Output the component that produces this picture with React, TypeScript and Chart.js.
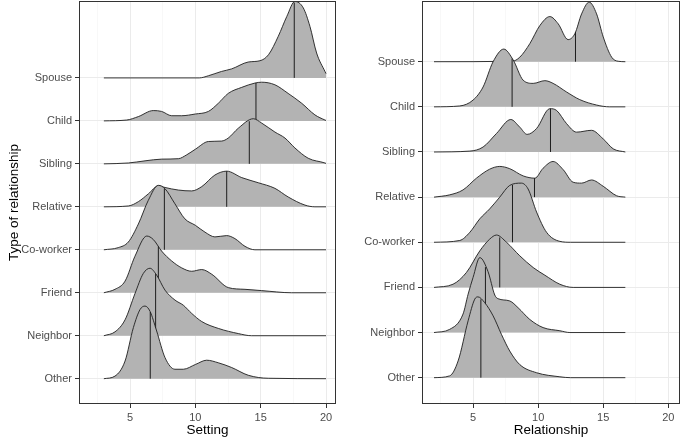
import React, { useEffect, useRef } from "react";
import { Chart, registerables } from "chart.js";
Chart.register(...registerables);

// Ridges listed bottom (y = 1) to top (y = 8)
const categories = ["Other", "Neighbor", "Friend", "Co-worker", "Relative", "Sibling", "Child", "Spouse"];
const xTicks = [2.5, 5, 7.5, 10, 12.5, 15, 17.5, 20];
const majorTicks = [5, 10, 15, 20];

// Setting panel: [x, density height in ridge units]
const settingOther = [[3,0],[3.85,0.06],[4.62,0.41],[5.26,1.19],[5.77,1.61],[6.15,1.69],[6.53,1.57],[7.04,1.11],[7.68,0.49],[8.44,0.22],[9.08,0.22],[10,0.33],[10.87,0.43],[11.76,0.37],[12.78,0.26],[14.05,0.08],[15.58,0.01],[20,0]];
const settingNeighbor = [[3,0],[3.85,0.09],[4.62,0.37],[5.38,0.98],[6.02,1.45],[6.53,1.57],[7.04,1.41],[7.68,1.06],[8.44,0.83],[9.08,0.71],[9.72,0.52],[10.49,0.33],[11.76,0.17],[13.29,0.05],[14.3,0],[20,0]];
const settingFriend = [[3,0],[3.85,0.08],[4.62,0.27],[5.38,0.85],[6.28,1.32],[6.78,1.24],[7.42,0.97],[8.19,0.74],[8.95,0.58],[9.72,0.5],[10.49,0.54],[11.26,0.43],[12.52,0.12],[13.8,0.08],[15.07,0.05],[17.37,0],[20,0]];
const settingCoworker = [[3,0],[4.1,0.05],[4.87,0.18],[5.64,0.6],[6.4,1.15],[7.17,1.5],[7.68,1.42],[8.44,1.07],[9.2,0.72],[10,0.57],[10.74,0.41],[11.5,0.3],[12.4,0.33],[13.03,0.26],[13.8,0.08],[14.56,0],[20,0]];
const settingRelative = [[3,0],[4.87,0.02],[5.64,0.12],[6.4,0.3],[7.17,0.49],[7.68,0.45],[8.7,0.39],[9.72,0.37],[10.49,0.47],[11.5,0.74],[12.4,0.83],[13.55,0.68],[14.82,0.56],[16.09,0.43],[17.1,0.23],[18.39,0.04],[19.15,0],[20,0]];
const settingSibling = [[3,0],[4.87,0.02],[6.15,0.07],[7.43,0.11],[8.7,0.12],[9.34,0.21],[10,0.34],[11,0.52],[12,0.53],[12.52,0.6],[13.29,0.83],[14.44,1.05],[15.07,0.95],[16.09,0.74],[16.86,0.6],[17.62,0.37],[18.64,0.13],[19.92,0.02],[20,0.01]];
const settingChild = [[3,0],[4.75,0.02],[5.64,0.1],[6.78,0.24],[7.42,0.22],[8.19,0.12],[8.95,0.12],[10,0.16],[11,0.22],[11.76,0.41],[12.52,0.64],[13.55,0.78],[14.56,0.88],[15.07,0.9],[16.09,0.84],[17.1,0.64],[18.14,0.41],[19.15,0.14],[19.92,0.02],[20,0.01]];
const settingSpouse = [[3,0],[10.3,0],[11,0.05],[12,0.15],[12.78,0.21],[14.05,0.37],[14.95,0.4],[15.6,0.54],[16.35,0.97],[17,1.43],[17.62,1.78],[18.26,1.63],[18.77,1.2],[19.28,0.58],[19.92,0.15],[20,0.1]];
const settingMedians = [6.55, 6.96, 7.17, 7.63, 12.4, 14.13, 14.64, 17.57];

// Relationship panel
const relOther = [[2,0],[3.2,0.04],[3.85,0.37],[4.62,1.26],[5.13,1.74],[5.38,1.79],[5.9,1.66],[6.54,1.37],[7.18,0.96],[7.82,0.59],[8.59,0.29],[9.88,0.11],[11.67,0.02],[12.5,0],[16.7,0]];
const relNeighbor = [[2,0],[3.2,0.07],[4.23,0.41],[4.62,0.85],[5.0,1.22],[5.52,1.66],[6.15,1.35],[6.67,0.83],[6.92,0.75],[7.82,0.7],[8.46,0.55],[9.36,0.29],[10.38,0.11],[11.67,0.04],[12.44,0],[16.7,0]];
const relFriend = [[2,0],[3.46,0.07],[4.49,0.33],[5.52,0.81],[6.28,1.07],[6.8,1.16],[7.57,1.0],[8.59,0.7],[9.62,0.44],[10.52,0.27],[11.67,0.07],[12.69,0],[16.7,0]];
const relCoworker = [[2,0],[3.98,0.04],[4.75,0.22],[5.52,0.52],[6.28,0.74],[7.05,1.0],[7.82,1.26],[8.72,1.31],[9.23,1.18],[9.88,0.67],[10.65,0.22],[11.67,0.02],[12.5,0],[16.7,0]];
const relRelative = [[2,0],[3.2,0.05],[4.23,0.16],[5.26,0.42],[6.28,0.62],[7.05,0.68],[7.82,0.63],[8.85,0.47],[9.75,0.42],[10.38,0.64],[11.15,0.79],[11.92,0.61],[12.69,0.33],[13.34,0.31],[14.1,0.38],[15.0,0.24],[16.03,0.03],[16.7,0]];
const relSibling = [[2,0],[4.75,0.02],[5.77,0.11],[6.8,0.41],[7.9,0.72],[8.59,0.55],[9.15,0.39],[9.88,0.52],[10.9,0.96],[11.42,0.92],[12.18,0.63],[12.95,0.44],[14.1,0.48],[15.0,0.29],[15.77,0.07],[16.7,0]];
const relChild = [[2,0],[3.98,0.02],[5,0.15],[5.77,0.44],[6.54,1.0],[7.36,1.28],[8.08,1.04],[8.85,0.59],[9.62,0.52],[10.52,0.58],[11.15,0.52],[12.18,0.33],[13.2,0.16],[14.49,0.04],[15.5,0],[16.7,0]];
const relSpouse = [[2,0],[8.0,0.01],[8.59,0.1],[9.36,0.4],[10.13,0.8],[10.9,1.0],[11.54,0.84],[12.3,0.49],[12.82,0.62],[13.34,1.06],[13.92,1.32],[14.49,1.06],[15.0,0.55],[15.65,0.1],[16.15,0.01],[16.7,0]];
const relMedians = [5.6, 5.95, 7.05, 8.03, 9.72, 10.95, 8.0, 12.87];

const settingRidges = [settingOther, settingNeighbor, settingFriend, settingCoworker, settingRelative, settingSibling, settingChild, settingSpouse];
const relRidges = [relOther, relNeighbor, relFriend, relCoworker, relRelative, relSibling, relChild, relSpouse];

const FONT = "'Liberation Sans', Arial, Helvetica, sans-serif";
Chart.defaults.font.family = FONT;

function heightAt(pts: number[][], x: number): number {
  for (let i = 0; i < pts.length - 1; i++) {
    const [x0, h0] = pts[i];
    const [x1, h1] = pts[i + 1];
    if (x >= x0 && x <= x1) {
      const t = x1 === x0 ? 0 : (x - x0) / (x1 - x0);
      return h0 + t * (h1 - h0);
    }
  }
  return 0;
}

const borderPlugin = {
  id: "panelBorder",
  afterDraw(chart: any) {
    const { ctx, chartArea: a } = chart;
    ctx.save();
    ctx.strokeStyle = "#333333";
    ctx.lineWidth = 1;
    ctx.strokeRect(a.left + 0.5, a.top + 0.5, a.right - a.left - 1, a.bottom - a.top - 1);
    ctx.restore();
  },
};

function makeConfig(ridges: number[][][], medians: number[], xMin: number, xMax: number, yMin: number, yMax: number, xTitle: string, yTitle: string, padRight: number): any {
  const datasets: any[] = [];
  ridges.forEach((pts, i) => {
    const base = i + 1;
    datasets.push({
      type: "line",
      data: pts.map(([x, h]) => ({ x, y: base + h })),
      borderColor: "#1e1e1e",
      borderWidth: 0.9,
      backgroundColor: "#B3B3B3",
      fill: { value: base },
      pointRadius: 0,
      cubicInterpolationMode: "monotone",
      order: 2 * i + 2,
    });
    const m = medians[i];
    datasets.push({
      type: "line",
      data: [{ x: m, y: base }, { x: m, y: base + heightAt(pts, m) }],
      borderColor: "#1e1e1e",
      borderWidth: 1,
      pointRadius: 0,
      fill: false,
      order: 2 * i + 1,
    });
  });
  const tickFont = { family: FONT, size: 11 };
  const titleFont = { family: FONT, size: 13.5 };
  return {
    type: "line",
    data: { datasets },
    options: {
      animation: false,
      responsive: false,
      devicePixelRatio: 1,
      layout: { padding: { left: 0, right: padRight, top: 1, bottom: 0 } },
      plugins: { legend: { display: false }, tooltip: { enabled: false } },
      scales: {
        x: {
          type: "linear",
          min: xMin,
          max: xMax,
          afterBuildTicks: (s: any) => { s.ticks = xTicks.map((v) => ({ value: v })); },
          afterFit: (s: any) => { s.height = 39; s.paddingLeft = 0; s.paddingRight = 0; },
          ticks: {
            autoSkip: false,
            maxRotation: 0,
            color: "#4D4D4D",
            font: tickFont,
            padding: 3,
            callback: (v: any) => (majorTicks.includes(Number(v)) ? String(v) : ""),
          },
          grid: {
            color: (c: any) => (c.tick && majorTicks.includes(c.tick.value) ? "#EBEBEB" : "#F4F4F4"),
            lineWidth: (c: any) => (c.tick && majorTicks.includes(c.tick.value) ? 1 : 0.6),
            tickColor: (c: any) => (c.tick && majorTicks.includes(c.tick.value) ? "#333333" : "rgba(0,0,0,0)"),
            tickLength: 4,
          },
          border: { display: false },
          title: { display: true, text: xTitle, color: "#000000", font: titleFont, padding: { top: 0, bottom: 5 } },
        },
        y: {
          type: "linear",
          min: yMin,
          max: yMax,
          afterBuildTicks: (s: any) => { s.ticks = categories.map((_, i) => ({ value: i + 1 })); },
          afterFit: (s: any) => { s.width = 79; s.paddingTop = 0; s.paddingBottom = 0; },
          ticks: {
            autoSkip: false,
            color: "#4D4D4D",
            font: tickFont,
            padding: 3,
            callback: (v: any) => categories[Math.round(Number(v)) - 1] ?? "",
          },
          grid: { color: "#EBEBEB", lineWidth: 1, tickColor: "#333333", tickLength: 4 },
          border: { display: false },
          title: { display: !!yTitle, text: yTitle, color: "#000000", font: titleFont, padding: { top: 5.7, bottom: 0 } },
        },
      },
    },
    plugins: [borderPlugin],
  };
}

export default function App() {
  const leftRef = useRef<HTMLCanvasElement>(null);
  const rightRef = useRef<HTMLCanvasElement>(null);
  useEffect(() => {
    const c1 = new Chart(leftRef.current as HTMLCanvasElement, makeConfig(settingRidges, settingMedians, 1.097, 20.765, 0.411, 9.79, "Setting", "Type of relationship", 7));
    const c2 = new Chart(rightRef.current as HTMLCanvasElement, makeConfig(relRidges, relMedians, 1.077, 20.9, 0.417, 9.345, "Relationship", "", 5));
    return () => { c1.destroy(); c2.destroy(); };
  }, []);
  return (
    <div style={{ position: "absolute", left: 0, top: 0, width: 685, height: 443, background: "#fff", display: "flex" }}>
      <canvas ref={leftRef} width={343} height={443} style={{ display: "block", width: 343, height: 443 }} />
      <canvas ref={rightRef} width={342} height={443} style={{ display: "block", width: 342, height: 443 }} />
    </div>
  );
}
